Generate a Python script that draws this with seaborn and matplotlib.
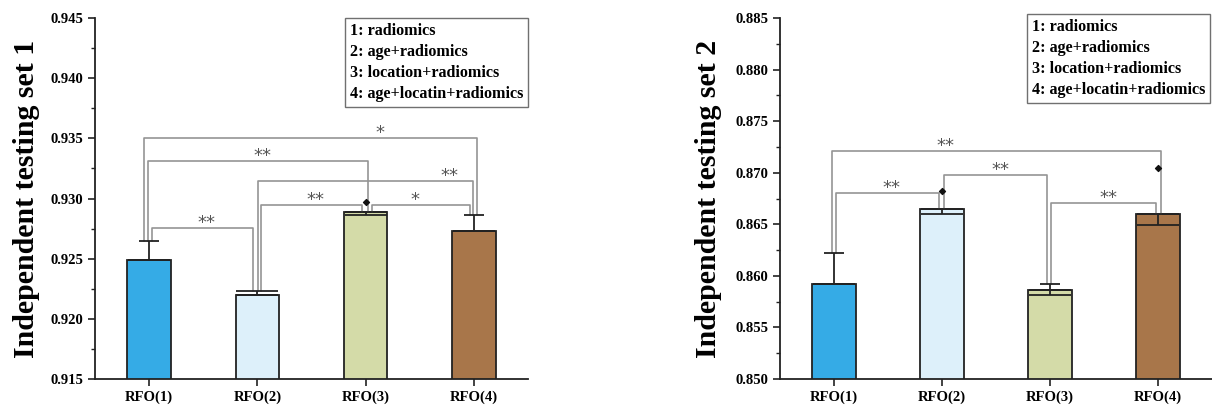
import matplotlib
matplotlib.use('Agg')
import numpy as np
import pandas as pd
import matplotlib.pyplot as plt
import seaborn as sns
from matplotlib.ticker import MultipleLocator, AutoMinorLocator, FormatStrFormatter
from matplotlib.lines import Line2D

# data
models = ['RFO(1)', 'RFO(2)', 'RFO(3)', 'RFO(4)']
legend_lines = ['1: radiomics', '2: age+radiomics', '3: location+radiomics',
                '4: age+locatin+radiomics']
bar_colors = ['#35abe6', '#ddf0fa', '#d4dba8', '#a8764a']

set1_auc = [0.9249, 0.9220, 0.9289, 0.9273]
set1_err_lo = [0.0, 0.0, 0.0003, 0.0]
set1_err_hi = [0.0016, 0.0003, 0.0, 0.0013]
set1_wide_cap = [False, True, False, False]
set1_mark_x = [2]
set1_mark_y = [0.9297]

set2_auc = [0.8592, 0.8665, 0.8586, 0.8660]
set2_err_lo = [0.0, 0.0005, 0.00045, 0.0011]
set2_err_hi = [0.0030, 0.0, 0.0006, 0.0]
set2_wide_cap = [False, False, False, False]
set2_mark_x = [1, 3]
set2_mark_y = [0.8682, 0.8705]

# brackets: (bar i, bar j, height, leg shift i, leg shift j, label, label x)
set1_brackets = [
    (0, 1, 0.92759, 0.026, -0.037, '**', 0.53),
    (1, 2, 0.92942, 0.035, -0.032, '**', 1.54),
    (2, 3, 0.92942, 0.060, -0.040, '*', 2.46),
    (1, 3, 0.93142, 0.002, -0.006, '**', 2.77),
    (0, 2, 0.93311, -0.010, 0.020, '**', 1.05),
    (0, 3, 0.93502, -0.046, 0.030, '*', 2.13),
]
set2_brackets = [
    (0, 1, 0.86808, 0.020, -0.028, '**', 0.53),
    (1, 2, 0.86976, 0.020, -0.030, '**', 1.54),
    (2, 3, 0.86708, 0.010, -0.020, '**', 2.54),
    (0, 3, 0.87209, -0.020, 0.030, '**', 1.03),
]

sns.set_style('ticks')
plt.rcParams['font.family'] = ['Liberation Serif', 'DejaVu Serif']
plt.rcParams['font.weight'] = 'bold'
plt.rcParams['text.color'] = 'black'
plt.rcParams['axes.labelcolor'] = 'black'
plt.rcParams['xtick.color'] = 'black'
plt.rcParams['ytick.color'] = 'black'

fig = plt.figure(figsize=(12.12, 4.07), dpi=100)
ax1 = fig.add_axes([95 / 1212, 28 / 407, 433 / 1212, 361 / 407])
ax2 = fig.add_axes([780 / 1212, 28 / 407, 432 / 1212, 361 / 407])


def draw_panel(ax, auc, lo, hi, wide, mx, my, brackets, ylim, ylabel, label_x, leg_anchor):
    df = pd.DataFrame({'model': models, 'auc': auc})
    sns.barplot(data=df, x='model', y='auc', hue='model', palette=bar_colors,
                saturation=1, width=0.4, edgecolor='#222222', linewidth=1.3,
                legend=False, ax=ax)
    xs = np.arange(len(models))
    zeros = [0.0] * len(models)
    # lower errors: caps run across the whole bar
    ax.errorbar(xs, auc, yerr=[lo, zeros], fmt='none', ecolor='#222222',
                elinewidth=1.3, capthick=1.3, capsize=15.3, zorder=3, lolims=False)
    for k in range(len(models)):
        if hi[k] > 0:
            ax.errorbar([k], [auc[k]], yerr=[[0.0], [hi[k]]], fmt='none',
                        ecolor='#222222', elinewidth=1.3, capthick=1.3, zorder=3,
                        capsize=15.3 if wide[k] else 7.5)
    tops = np.array(auc) + np.array(hi)
    for i, j, h, di, dj, lab, lx in brackets:
        ax.plot([i + di, i + di, j + dj, j + dj], [tops[i], h, h, tops[j]],
                color='#959595', lw=1.2, zorder=2)
        ax.text(lx, h, lab, ha='center', va='baseline', fontsize=13,
                color='#555555', family='DejaVu Sans', fontweight='normal')
    ax.scatter(mx, my, marker='D', s=9, color='#111111', zorder=4)

    ax.set_xlim(-0.5, 3.5)
    ax.set_ylim(*ylim)
    ax.yaxis.set_major_locator(MultipleLocator(0.005))
    ax.yaxis.set_minor_locator(AutoMinorLocator(2))
    ax.yaxis.set_major_formatter(FormatStrFormatter('%.3f'))
    sns.despine(ax=ax)
    for s in ['left', 'bottom']:
        ax.spines[s].set_color('#222222')
        ax.spines[s].set_linewidth(1.3)
    ax.tick_params(which='major', length=5, width=1.2, color='#222222', labelsize=10.5)
    ax.tick_params(which='minor', length=3, width=1.0, color='#222222')
    ax.tick_params(axis='x', which='minor', bottom=False)
    for t in ax.get_xticklabels() + ax.get_yticklabels():
        t.set_fontweight('bold')
    ax.set_xlabel('')
    ax.set_ylabel(ylabel, fontsize=21.5, fontweight='bold')
    ax.yaxis.set_label_coords(label_x, 0.5)

    handles = [Line2D([], [], linestyle='none') for _ in legend_lines]
    leg = ax.legend(handles, legend_lines, loc='upper right', bbox_to_anchor=leg_anchor,
                    borderaxespad=0, handlelength=0, handletextpad=0, fancybox=False,
                    edgecolor='#707070', framealpha=1, borderpad=0.3, labelspacing=0.32,
                    prop={'family': 'Liberation Serif', 'weight': 'bold', 'size': 11.6})
    leg.get_frame().set_linewidth(1.0)


draw_panel(ax1, set1_auc, set1_err_lo, set1_err_hi, set1_wide_cap, set1_mark_x, set1_mark_y,
           set1_brackets, (0.915, 0.945), 'Independent testing set 1', -0.128, (1.0, 1.0))
draw_panel(ax2, set2_auc, set2_err_lo, set2_err_hi, set2_wide_cap, set2_mark_x, set2_mark_y,
           set2_brackets, (0.850, 0.885), 'Independent testing set 2', -0.135, (0.995, 1.011))

fig.savefig('out.png', dpi=100)
